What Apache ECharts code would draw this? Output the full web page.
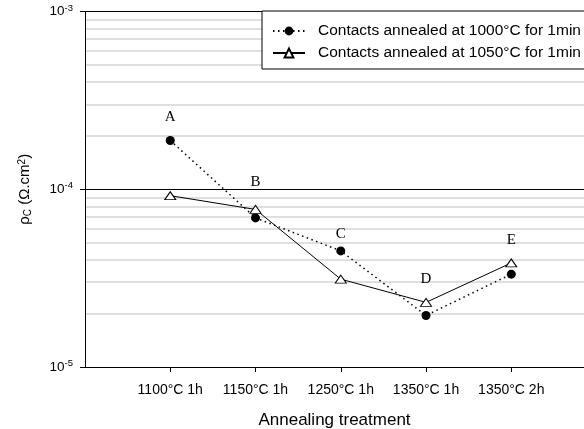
<!DOCTYPE html>
<html>
<head>
<meta charset="utf-8">
<script src="https://cdn.jsdelivr.net/npm/echarts@6/dist/echarts.min.js"></script>
<style>
  html, body { margin: 0; padding: 0; background: #fff; }
  #chart { width: 584px; height: 429px; }
</style>
</head>
<body>
<div id="chart"></div>
<script>
  // annealing treatments (x categories)
  var treatments = ['1100°C 1h', '1150°C 1h', '1250°C 1h', '1350°C 1h', '1350°C 2h'];
  var pointLetters = ['A', 'B', 'C', 'D', 'E'];
  // specific contact resistivity, ohm.cm^2
  var rho1000 = [1.88e-4, 6.9e-5, 4.5e-5, 1.95e-5, 3.33e-5];
  var rho1050 = [9.2e-5, 7.7e-5, 3.12e-5, 2.31e-5, 3.85e-5];
  // minor grid values between decades
  var minorGrid = [2e-5, 3e-5, 4e-5, 5e-5, 6e-5, 7e-5, 8e-5, 9e-5,
                   2e-4, 3e-4, 4e-4, 5e-4, 6e-4, 7e-4, 8e-4, 9e-4];

  var font = 'Liberation Sans, Arial, sans-serif';
  var pos = treatments.map(function (t, i) { return i + 1; });
  var xMax = 5.853;
  // letter gap above the upper marker (B and C sit a bit differently)
  var letterGap = [15, 19, 9, 15, 15];

  var chart = echarts.init(document.getElementById('chart'));
  chart.setOption({
    animation: false,
    grid: { left: 85, right: 0, top: 11.5, bottom: 62, outerBoundsMode: 'none', containLabel: false },
    legend: {
      left: 262,
      top: 11,
      orient: 'vertical',
      backgroundColor: '#fff',
      borderColor: '#000',
      borderWidth: 1,
      padding: [12, 60, 8, 10],
      itemWidth: 32,
      itemHeight: 11,
      itemGap: 6,
      textStyle: { fontFamily: font, fontSize: 15.5, color: '#000', padding: [0, 0, 0, 8] },
      data: ['Contacts annealed at 1000°C for 1min', 'Contacts annealed at 1050°C for 1min']
    },
    xAxis: {
      type: 'value',
      min: 0,
      max: xMax,
      name: 'Annealing treatment',
      nameLocation: 'middle',
      nameGap: 45,
      nameTextStyle: { fontFamily: font, fontSize: 17, color: '#000' },
      axisLine: { lineStyle: { color: '#000', width: 1 } },
      axisTick: { customValues: pos, length: 5, lineStyle: { color: '#000' } },
      axisLabel: {
        customValues: pos,
        margin: 16,
        fontFamily: font,
        fontSize: 14,
        color: '#000',
        formatter: function (v) { return treatments[Math.round(v) - 1] || ''; }
      },
      splitLine: { show: false }
    },
    yAxis: {
      type: 'log',
      logBase: 10,
      min: 1e-5,
      max: 1e-3,
      name: '{r|ρ}{s|C}{r| (Ω.cm}{p|2}{r|)}',
      nameLocation: 'middle',
      nameGap: 52,
      nameTextStyle: {
        rich: {
          r: { fontFamily: font, fontSize: 15, color: '#000' },
          s: { fontFamily: font, fontSize: 10, color: '#000', padding: [6, 0, 0, 0] },
          p: { fontFamily: font, fontSize: 10, color: '#000', padding: [0, 0, 6, 0] }
        }
      },
      axisLine: { show: true, lineStyle: { color: '#000', width: 1 } },
      axisTick: { show: true, length: 5, lineStyle: { color: '#000' } },
      axisLabel: {
        margin: 12,
        formatter: function (v) {
          var e = Math.round(Math.log10(v));
          return '{b|10}{e|' + e + '}';
        },
        rich: {
          b: { fontFamily: font, fontSize: 13.5, color: '#000' },
          e: { fontFamily: font, fontSize: 9.5, color: '#000', padding: [0, 0, 7, 0] }
        }
      },
      splitLine: { show: true, lineStyle: { color: '#000', width: 1 } }
    },
    series: [
      {
        name: 'minor grid',
        type: 'lines',
        coordinateSystem: 'cartesian2d',
        silent: true,
        z: 0,
        lineStyle: { color: '#d4d4d4', width: 1.5, opacity: 1 },
        data: minorGrid.map(function (v) { return { coords: [[0, v], [xMax, v]] }; })
      },
      {
        name: 'Contacts annealed at 1000°C for 1min',
        type: 'line',
        z: 3,
        symbol: 'circle',
        symbolSize: 9,
        itemStyle: { color: '#000' },
        lineStyle: { color: '#000', width: 1.5, type: [1.5, 3.5] },
        data: rho1000.map(function (v, i) { return [pos[i], v]; })
      },
      {
        name: 'Contacts annealed at 1050°C for 1min',
        type: 'line',
        z: 4,
        symbol: 'triangle',
        symbolSize: [11, 8],
        itemStyle: { color: '#fff', borderColor: '#000', borderWidth: 1 },
        lineStyle: { color: '#000', width: 1 },
        data: rho1050.map(function (v, i) { return [pos[i], v]; })
      },
      {
        name: 'letters',
        type: 'line',
        z: 5,
        silent: true,
        symbol: 'circle',
        symbolSize: 1,
        itemStyle: { color: 'rgba(0,0,0,0)' },
        lineStyle: { opacity: 0 },
        label: {
          show: true,
          position: 'top',
          fontFamily: 'Liberation Serif, Times New Roman, serif',
          fontSize: 15,
          color: '#000',
          formatter: function (p) { return pointLetters[p.dataIndex]; }
        },
        data: rho1000.map(function (v, i) {
          return { value: [pos[i], Math.max(v, rho1050[i])], label: { distance: letterGap[i] } };
        })
      }
    ]
  });
</script>
</body>
</html>
